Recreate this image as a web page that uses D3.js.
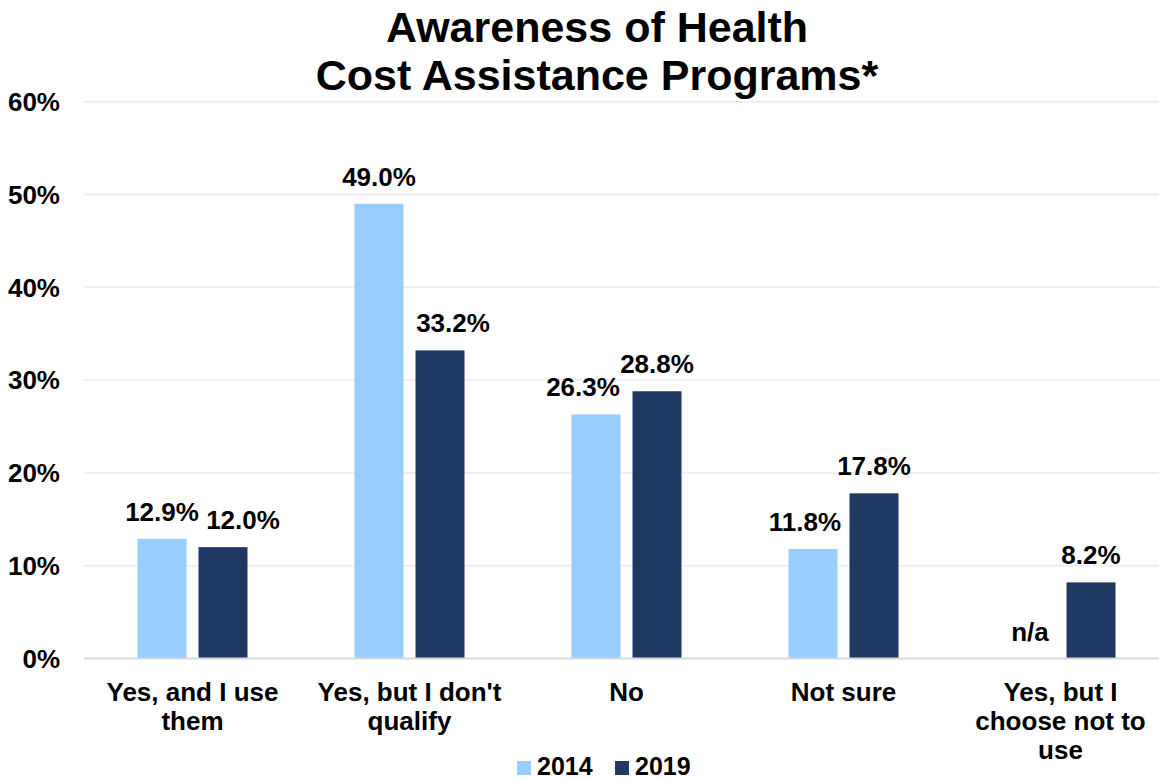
<!DOCTYPE html>
<html>
<head>
<meta charset="utf-8">
<script src="https://cdn.jsdelivr.net/npm/d3@7"></script>
<style>
  html, body { margin: 0; padding: 0; background: #fff; }
  svg { display: block; font-family: "Liberation Sans", Arial, sans-serif; }
</style>
</head>
<body>
<svg id="chart" width="1159" height="780"></svg>
<script>
// Chart data
const categories = [
  ["Yes, and I use", "them"],
  ["Yes, but I don't", "qualify"],
  ["No"],
  ["Not sure"],
  ["Yes, but I", "choose not to", "use"]
];
const seriesNames = ["2014", "2019"];
const values2014 = [12.9, 49.0, 26.3, 11.8, null];
const values2019 = [12.0, 33.2, 28.8, 17.8, 8.2];
const yTicks = [0, 10, 20, 30, 40, 50, 60];
const titleLines = ["Awareness of Health", "Cost Assistance Programs*"];

const colors = { "2014": "#99CCFF", "2019": "#203864" };

// Hand-placed label shifts so neighbouring value labels stay readable
const labelShift = { "0-2019": 20, "1-2019": 13, "2-2014": -13, "3-2014": -8 };

const svg = d3.select("#chart");
const catKeys = categories.map((c, i) => i);

const x0 = d3.scaleBand().domain(catKeys).range([84, 1169]).padding(0);
const groupW = 110;
const x1 = d3.scaleBand().domain(seriesNames)
  .range([(x0.bandwidth() - groupW) / 2, (x0.bandwidth() + groupW) / 2])
  .paddingInner(0.197).paddingOuter(0);
const y = d3.scaleLinear().domain([0, 60]).range([658.5, 101.7]);

// Gridlines
svg.append("g")
  .selectAll("line")
  .data(yTicks.filter(t => t > 0))
  .join("line")
  .attr("x1", 84).attr("x2", 1169)
  .attr("y1", d => y(d)).attr("y2", d => y(d))
  .attr("stroke", "#ebebeb").attr("stroke-width", 1.5);

// Y axis labels
const yAxis = d3.axisLeft(y).tickValues(yTicks).tickFormat(d => d + "%").tickSize(0).tickPadding(0);
const yg = svg.append("g").attr("transform", "translate(60,0)").call(yAxis);
yg.select(".domain").remove();
yg.selectAll("text")
  .attr("font-size", 26).attr("font-weight", "bold").attr("fill", "#000")
  .attr("font-family", "Liberation Sans, Arial, sans-serif")
  .attr("dy", "0.34em");

// Bars
const rows = [];
catKeys.forEach(i => {
  rows.push({ cat: i, s: "2014", v: values2014[i] });
  rows.push({ cat: i, s: "2019", v: values2019[i] });
});

svg.append("g")
  .selectAll("rect")
  .data(rows.filter(d => d.v != null))
  .join("rect")
  .attr("x", d => x0(d.cat) + x1(d.s))
  .attr("width", x1.bandwidth())
  .attr("y", d => y(d.v))
  .attr("height", d => y(0) - y(d.v))
  .attr("fill", d => colors[d.s]);

// Baseline
svg.append("line")
  .attr("x1", 84).attr("x2", 1169)
  .attr("y1", y(0)).attr("y2", y(0))
  .attr("stroke", "#d9d9d9").attr("stroke-width", 2);

// Value labels
svg.append("g")
  .selectAll("text")
  .data(rows)
  .join("text")
  .attr("x", d => x0(d.cat) + x1(d.s) + x1.bandwidth() / 2 + (labelShift[d.cat + "-" + d.s] || 0))
  .attr("y", d => y(d.v == null ? 0 : d.v) - 18)
  .attr("text-anchor", "middle")
  .attr("font-size", 26).attr("font-weight", "bold").attr("fill", "#000")
  .text(d => d.v == null ? "n/a" : d.v.toFixed(1) + "%");

// Category labels
const xg = svg.append("g");
categories.forEach((lines, i) => {
  const t = xg.append("text")
    .attr("x", x0(i) + x0.bandwidth() / 2)
    .attr("y", 701)
    .attr("text-anchor", "middle")
    .attr("font-size", 26).attr("font-weight", "bold").attr("fill", "#000");
  lines.forEach((ln, k) => {
    t.append("tspan")
      .attr("x", x0(i) + x0.bandwidth() / 2)
      .attr("y", 701 + k * 28.8)
      .text(ln);
  });
});

// Title
const title = svg.append("text")
  .attr("text-anchor", "middle")
  .attr("font-size", 43).attr("font-weight", "bold").attr("fill", "#000");
titleLines.forEach((ln, k) => {
  title.append("tspan").attr("x", 597).attr("y", 42 + k * 48.3).text(ln);
});

// Legend
const legend = svg.append("g");
const legendX = [517, 615];
seriesNames.forEach((s, k) => {
  legend.append("rect")
    .attr("x", legendX[k]).attr("y", 761)
    .attr("width", 14).attr("height", 14)
    .attr("fill", colors[s]);
  legend.append("text")
    .attr("x", legendX[k] + 20).attr("y", 774.5)
    .attr("font-size", 25).attr("font-weight", "bold").attr("fill", "#000")
    .text(s);
});
</script>
</body>
</html>
